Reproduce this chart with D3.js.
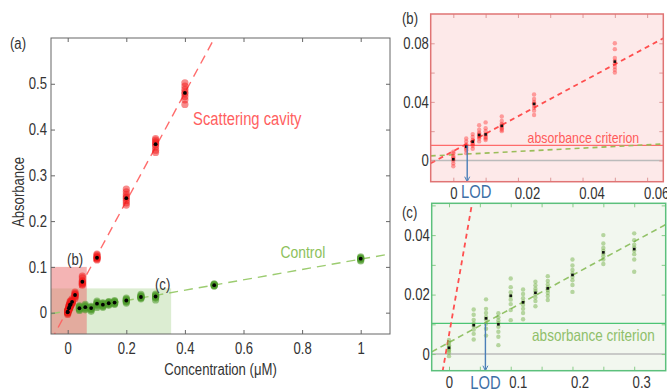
<!DOCTYPE html>
<html>
<head>
<meta charset="utf-8">
<script src="https://cdn.jsdelivr.net/npm/d3@7"></script>
<style>
  html, body { margin: 0; padding: 0; background: #fff; }
  svg { display: block; }
  text { font-family: "Liberation Sans", Arial, sans-serif; }
</style>
</head>
<body>
<div id="chart"></div>
<script>
// --- Data ---
const redConc = [0, 0.004, 0.006, 0.008, 0.01, 0.015, 0.025, 0.05, 0.1, 0.2, 0.3, 0.4];
const redMean = [0.0008, 0.0094, 0.0128, 0.0174, 0.0178, 0.0236, 0.0386, 0.0675, 0.120, 0.250, 0.368, 0.480];
const redReps = [
  [-0.004, -0.002, 0, 0.001, 0.002, 0.003, 0.005, 0.006],
  [0.005, 0.007, 0.008, 0.009, 0.010, 0.011, 0.013, 0.015],
  [0.008, 0.010, 0.011, 0.012, 0.013, 0.014, 0.016, 0.018],
  [0.013, 0.015, 0.016, 0.017, 0.018, 0.019, 0.021, 0.024],
  [0.014, 0.015, 0.016, 0.017, 0.018, 0.020, 0.022, 0.026],
  [0.020, 0.021, 0.022, 0.023, 0.024, 0.025, 0.027, 0.030],
  [0.031, 0.034, 0.036, 0.038, 0.039, 0.040, 0.042, 0.045],
  [0.060, 0.062, 0.064, 0.066, 0.068, 0.070, 0.076, 0.080],
  [0.115, 0.117, 0.119, 0.120, 0.121, 0.123, 0.126, 0.128],
  [0.235, 0.240, 0.245, 0.250, 0.253, 0.258, 0.264, 0.270],
  [0.350, 0.355, 0.362, 0.367, 0.370, 0.373, 0.377, 0.380],
  [0.455, 0.465, 0.472, 0.478, 0.482, 0.488, 0.495, 0.502]
];

const greenConc = [0, 0.04, 0.06, 0.08, 0.1, 0.12, 0.14, 0.16, 0.2, 0.25, 0.3, 0.5, 1.0];
const greenMean = [0.0021, 0.0097, 0.012, 0.010, 0.0196, 0.0174, 0.0206, 0.0221, 0.0266, 0.0342, 0.0353, 0.060, 0.118];
const greenReps = [
  [-0.0007, 0.0005, 0.0012, 0.0018, 0.0024, 0.003, 0.0038, 0.0047],
  [0.0049, 0.0068, 0.0082, 0.0094, 0.0103, 0.0115, 0.0132, 0.015],
  [0.0062, 0.0085, 0.0102, 0.0116, 0.0125, 0.0138, 0.0152, 0.0184],
  [0.003, 0.0058, 0.0075, 0.0092, 0.0104, 0.0113, 0.0124, 0.0137],
  [0.0114, 0.0148, 0.0168, 0.0183, 0.0195, 0.0208, 0.0225, 0.0254],
  [0.0117, 0.0138, 0.0152, 0.0165, 0.0176, 0.0188, 0.0202, 0.0217],
  [0.0161, 0.0178, 0.019, 0.0201, 0.0211, 0.022, 0.0231, 0.0243],
  [0.0182, 0.0195, 0.0206, 0.0215, 0.0224, 0.0234, 0.0246, 0.0262],
  [0.0209, 0.0232, 0.0248, 0.026, 0.0271, 0.0283, 0.0298, 0.0318],
  [0.0303, 0.0318, 0.0329, 0.0338, 0.0347, 0.0357, 0.0372, 0.040],
  [0.0277, 0.0318, 0.0336, 0.0348, 0.0358, 0.0368, 0.0383, 0.0406],
  [0.058, 0.059, 0.060, 0.0605, 0.061, 0.062, 0.063],
  [0.113, 0.115, 0.117, 0.118, 0.119, 0.120, 0.122]
];

// linear fits (slope, intercept)
const redFit = [1.185, 0.0064];
const controlFit = [0.113, 0.0039];

const criterion = 0.0103;   // absorbance criterion
const lodB = 0.0043;        // LOD, scattering cavity
const lodC = 0.059;         // LOD, control

// zoom regions marked in panel (a): [xMax, yMax]
const regionB = [0.065, 0.1];
const regionC = [0.353, 0.053];

// tick values
const mainXTicks = [0, 0.2, 0.4, 0.6, 0.8, 1];
const mainYTicks = [0, 0.1, 0.2, 0.3, 0.4, 0.5];
const bXTicks = [0, 0.01, 0.02, 0.03, 0.04, 0.05, 0.06];
const bXLabels = [0, 0.02, 0.04, 0.06];
const bYTicks = [0, 0.02, 0.04, 0.06, 0.08];
const bYLabels = [0, 0.04, 0.08];
const cXTicks = [0, 0.05, 0.1, 0.15, 0.2, 0.25, 0.3];
const cXLabels = [0, 0.1, 0.2, 0.3];
const cYTicks = [0, 0.01, 0.02, 0.03, 0.04, 0.05];
const cYLabels = [0, 0.02, 0.04];

const W = 667, H = 389;
const svg = d3.select('#chart').append('svg').attr('width', W).attr('height', H);
const defs = svg.append('defs');

function flat(conc, reps) {
  const out = [];
  conc.forEach((c, i) => reps[i].forEach(v => out.push({ c, v })));
  return out;
}
const redPts = flat(redConc, redReps);
const greenPts = flat(greenConc, greenReps);
const redMeans = redConc.map((c, i) => ({ c, v: redMean[i] }));
const greenMeans = greenConc.map((c, i) => ({ c, v: greenMean[i] }));

function fitLine(x, y, fit, g, color, width, dash, opacity) {
  const [x0, x1] = x.domain();
  g.append('path')
    .datum([x0, x1])
    .attr('fill', 'none')
    .attr('stroke', color)
    .attr('stroke-width', width)
    .attr('stroke-dasharray', dash)
    .attr('opacity', opacity)
    .attr('d', d3.line().x(d => x(d)).y(d => y(fit[1] + fit[0] * d)));
}

function clipFor(id, x, y) {
  defs.append('clipPath').attr('id', id).append('rect')
    .attr('x', x.range()[0]).attr('y', y.range()[1])
    .attr('width', x.range()[1] - x.range()[0])
    .attr('height', y.range()[0] - y.range()[1]);
}

function frameAxes(x, y, o) {
  const g = svg.append('g');
  const style = sel => {
    sel.select('.domain').remove();
    sel.selectAll('line').attr('stroke', o.tickColor);
    sel.selectAll('text').attr('fill', '#333').style('font-size', o.font + 'px');
  };
  const fmt = labels => d => labels.includes(d) ? d3.format('~g')(d) : '';
  g.append('g').attr('transform', `translate(0,${y.range()[0]})`)
    .call(d3.axisBottom(x).tickValues(o.xt).tickFormat(fmt(o.xl)).tickSizeInner(-4).tickSizeOuter(0).tickPadding(o.xpad))
    .call(style)
    .call(s => s.selectAll('text').attr('dx', d => d === 0 ? 0 : o.xShift));
  g.append('g').attr('transform', `translate(0,${y.range()[1]})`)
    .call(d3.axisTop(x).tickValues(o.xt).tickFormat('').tickSizeInner(-4).tickSizeOuter(0))
    .call(style);
  g.append('g').attr('transform', `translate(${x.range()[0]},0)`)
    .call(d3.axisLeft(y).tickValues(o.yt).tickFormat(fmt(o.yl)).tickSizeInner(-4).tickSizeOuter(0).tickPadding(o.ypad))
    .call(style);
  g.append('g').attr('transform', `translate(${x.range()[1]},0)`)
    .call(d3.axisRight(y).tickValues(o.yt).tickFormat('').tickSizeInner(-4).tickSizeOuter(0))
    .call(style);
  g.append('rect')
    .attr('x', x.range()[0]).attr('y', y.range()[1])
    .attr('width', x.range()[1] - x.range()[0]).attr('height', y.range()[0] - y.range()[1])
    .attr('fill', 'none').attr('stroke', o.frame).attr('stroke-width', o.frameW);
}

// ================= Panel (a) =================
const mx = d3.scaleLinear().domain([-0.057, 1.1]).range([51, 390]);
const my = d3.scaleLinear().domain([-0.0466, 0.6]).range([334, 38]);
clipFor('clipA', mx, my);
const ga = svg.append('g').attr('clip-path', 'url(#clipA)');

ga.append('rect')
  .attr('x', mx(mx.domain()[0])).attr('y', my(regionC[1]))
  .attr('width', mx(regionC[0]) - mx(mx.domain()[0]))
  .attr('height', my(my.domain()[0]) - my(regionC[1]))
  .attr('fill', '#8cc46a').attr('opacity', 0.3);
ga.append('rect')
  .attr('x', mx(mx.domain()[0])).attr('y', my(regionB[1]))
  .attr('width', mx(regionB[0]) - mx(mx.domain()[0]))
  .attr('height', my(my.domain()[0]) - my(regionB[1]))
  .attr('fill', '#ea6a6a').attr('opacity', 0.5);

fitLine(mx, my, controlFit, ga, '#9ccc70', 1.4, '9,6', 1);
fitLine(mx, my, redFit, ga, '#ff5c5c', 1.4, '9,6', 0.9);

ga.append('g').selectAll('circle').data(greenPts).join('circle')
  .attr('cx', d => mx(d.c)).attr('cy', d => my(d.v)).attr('r', 3.6)
  .attr('fill', '#4e9a2c').attr('opacity', 0.55);
ga.append('g').selectAll('circle').data(redPts).join('circle')
  .attr('cx', d => mx(d.c)).attr('cy', d => my(d.v)).attr('r', 3.6)
  .attr('fill', '#f21818').attr('opacity', 0.5);
ga.append('g').selectAll('circle').data(greenMeans.concat(redMeans)).join('circle')
  .attr('cx', d => mx(d.c)).attr('cy', d => my(d.v)).attr('r', 1.9)
  .attr('fill', '#000');

frameAxes(mx, my, {
  xt: mainXTicks, xl: mainXTicks, yt: mainYTicks, yl: mainYTicks,
  font: 16, xpad: 9, ypad: 4, xShift: 0, tickColor: '#666', frame: '#666', frameW: 1
});

svg.append('text').attr('x', 10).attr('y', 49).attr('font-size', 16).attr('fill', '#333').text('(a)');
svg.append('text').attr('x', mx(0.025)).attr('y', my(0.104)).attr('text-anchor', 'middle')
  .attr('font-size', 16).attr('fill', '#333').text('(b)');
svg.append('text').attr('x', mx(0.324)).attr('y', my(0.05)).attr('text-anchor', 'middle')
  .attr('font-size', 16).attr('fill', '#333').text('(c)');
svg.append('text').attr('x', mx(0.428)).attr('y', my(0.41))
  .attr('font-size', 18).attr('fill', '#ff5f5f').text('Scattering cavity');
svg.append('text').attr('x', mx(0.726)).attr('y', my(0.12))
  .attr('font-size', 17).attr('fill', '#8dc15c').text('Control');
svg.append('text').attr('x', (mx.range()[0] + mx.range()[1]) / 2).attr('y', 375)
  .attr('text-anchor', 'middle').attr('font-size', 16).attr('fill', '#333').text('Concentration (μM)');
svg.append('text').attr('transform', `translate(24,${(my.range()[0] + my.range()[1]) / 2 + 6}) rotate(-90)`)
  .attr('text-anchor', 'middle').attr('font-size', 16).attr('fill', '#333').text('Absorbance');

// ================= Inset (b) =================
const bx = d3.scaleLinear().domain([-0.007, 0.065]).range([430.7, 663.3]);
const by = d3.scaleLinear().domain([-0.0145, 0.1]).range([181.7, 14]);
clipFor('clipB', bx, by);
svg.append('rect').attr('x', bx.range()[0]).attr('y', by.range()[1])
  .attr('width', bx.range()[1] - bx.range()[0]).attr('height', by.range()[0] - by.range()[1])
  .attr('fill', '#fde9e9');
const gb = svg.append('g').attr('clip-path', 'url(#clipB)');
gb.append('line').attr('x1', bx.range()[0]).attr('x2', bx.range()[1])
  .attr('y1', by(0)).attr('y2', by(0)).attr('stroke', '#bbb').attr('stroke-width', 1.6);
gb.append('line').attr('x1', bx.range()[0]).attr('x2', bx.range()[1])
  .attr('y1', by(criterion)).attr('y2', by(criterion)).attr('stroke', '#ff6b6b').attr('stroke-width', 1.3);
fitLine(bx, by, controlFit, gb, '#9bbd5a', 1.6, '5,4', 1);
fitLine(bx, by, redFit, gb, '#ff4f4f', 1.8, '5,4', 1);
gb.append('g').selectAll('circle').data(redPts).join('circle')
  .attr('cx', d => bx(d.c)).attr('cy', d => by(d.v)).attr('r', 2.2)
  .attr('fill', '#f22').attr('opacity', 0.4);
gb.append('g').selectAll('rect').data(redMeans).join('rect')
  .attr('x', d => bx(d.c) - 1.3).attr('y', d => by(d.v) - 1.3).attr('width', 2.6).attr('height', 2.6)
  .attr('fill', '#111');
gb.append('text').attr('x', bx(0.023)).attr('y', by(0.0122))
  .attr('font-size', 15).attr('fill', '#ff5a5a').text('absorbance criterion');
// LOD arrow
gb.append('line').attr('x1', bx(lodB)).attr('x2', bx(lodB))
  .attr('y1', by(criterion)).attr('y2', by.range()[0] - 1)
  .attr('stroke', '#4a7fb8').attr('stroke-width', 1.4);
gb.append('path')
  .attr('d', `M${bx(lodB) - 2.5},${by.range()[0] - 5} L${bx(lodB)},${by.range()[0]} L${bx(lodB) + 2.5},${by.range()[0] - 5}`)
  .attr('fill', 'none').attr('stroke', '#4a7fb8').attr('stroke-width', 1);
frameAxes(bx, by, {
  xt: bXTicks, xl: bXLabels, yt: bYTicks, yl: bYLabels,
  font: 16, xpad: 6, ypad: 2, xShift: 9, tickColor: '#d99', frame: '#e07474', frameW: 1.5
});
svg.append('text').attr('x', bx(lodB) + 9).attr('y', 198).attr('text-anchor', 'middle')
  .attr('font-size', 18).attr('fill', '#3d6fa6').text('LOD');
svg.append('text').attr('x', 402).attr('y', 24).attr('font-size', 16).attr('fill', '#333').text('(b)');

// ================= Inset (c) =================
const cx = d3.scaleLinear().domain([-0.028, 0.351]).range([431.7, 665.7]);
const cy = d3.scaleLinear().domain([-0.0056, 0.0507]).range([370.7, 203.3]);
clipFor('clipC', cx, cy);
svg.append('rect').attr('x', cx.range()[0]).attr('y', cy.range()[1])
  .attr('width', cx.range()[1] - cx.range()[0]).attr('height', cy.range()[0] - cy.range()[1])
  .attr('fill', '#f2f7ef');
const gc = svg.append('g').attr('clip-path', 'url(#clipC)');
gc.append('line').attr('x1', cx.range()[0]).attr('x2', cx.range()[1])
  .attr('y1', cy(0)).attr('y2', cy(0)).attr('stroke', '#bbb').attr('stroke-width', 1.6);
gc.append('line').attr('x1', cx.range()[0]).attr('x2', cx.range()[1])
  .attr('y1', cy(criterion)).attr('y2', cy(criterion)).attr('stroke', '#4cc474').attr('stroke-width', 1.3);
fitLine(cx, cy, controlFit, gc, '#93c268', 1.6, '6,4', 1);
fitLine(cx, cy, redFit, gc, '#ff4f4f', 1.8, '5,4', 1);
gc.append('g').selectAll('circle').data(greenPts).join('circle')
  .attr('cx', d => cx(d.c)).attr('cy', d => cy(d.v)).attr('r', 2.2)
  .attr('fill', '#6aaa3c').attr('opacity', 0.45);
gc.append('g').selectAll('rect').data(greenMeans).join('rect')
  .attr('x', d => cx(d.c) - 1.3).attr('y', d => cy(d.v) - 1.3).attr('width', 2.6).attr('height', 2.6)
  .attr('fill', '#111');
gc.append('text').attr('x', cx(0.1346)).attr('y', cy(0.0045))
  .attr('font-size', 16.5).attr('fill', '#8fbf6a').text('absorbance criterion');
gc.append('line').attr('x1', cx(lodC)).attr('x2', cx(lodC))
  .attr('y1', cy(criterion)).attr('y2', cy.range()[0] - 1)
  .attr('stroke', '#4a7fb8').attr('stroke-width', 1.4);
gc.append('path')
  .attr('d', `M${cx(lodC) - 2.5},${cy.range()[0] - 5} L${cx(lodC)},${cy.range()[0]} L${cx(lodC) + 2.5},${cy.range()[0] - 5}`)
  .attr('fill', 'none').attr('stroke', '#4a7fb8').attr('stroke-width', 1);
frameAxes(cx, cy, {
  xt: cXTicks, xl: cXLabels, yt: cYTicks, yl: cYLabels,
  font: 16, xpad: 6, ypad: 2, xShift: 7, tickColor: '#8c8', frame: '#5cc07c', frameW: 1.5
});
svg.append('text').attr('x', cx(lodC)).attr('y', 389).attr('text-anchor', 'middle')
  .attr('font-size', 18).attr('fill', '#3d6fa6').text('LOD');
svg.append('text').attr('x', 402).attr('y', 218).attr('font-size', 16).attr('fill', '#333').text('(c)');

// the figure's lettering is condensed; squeeze every text horizontally
svg.selectAll('text').each(function () {
  const len = this.getComputedTextLength();
  if (len > 0) {
    this.setAttribute('textLength', (len * 0.82).toFixed(1));
    this.setAttribute('lengthAdjust', 'spacingAndGlyphs');
  }
});
</script>
</body>
</html>
